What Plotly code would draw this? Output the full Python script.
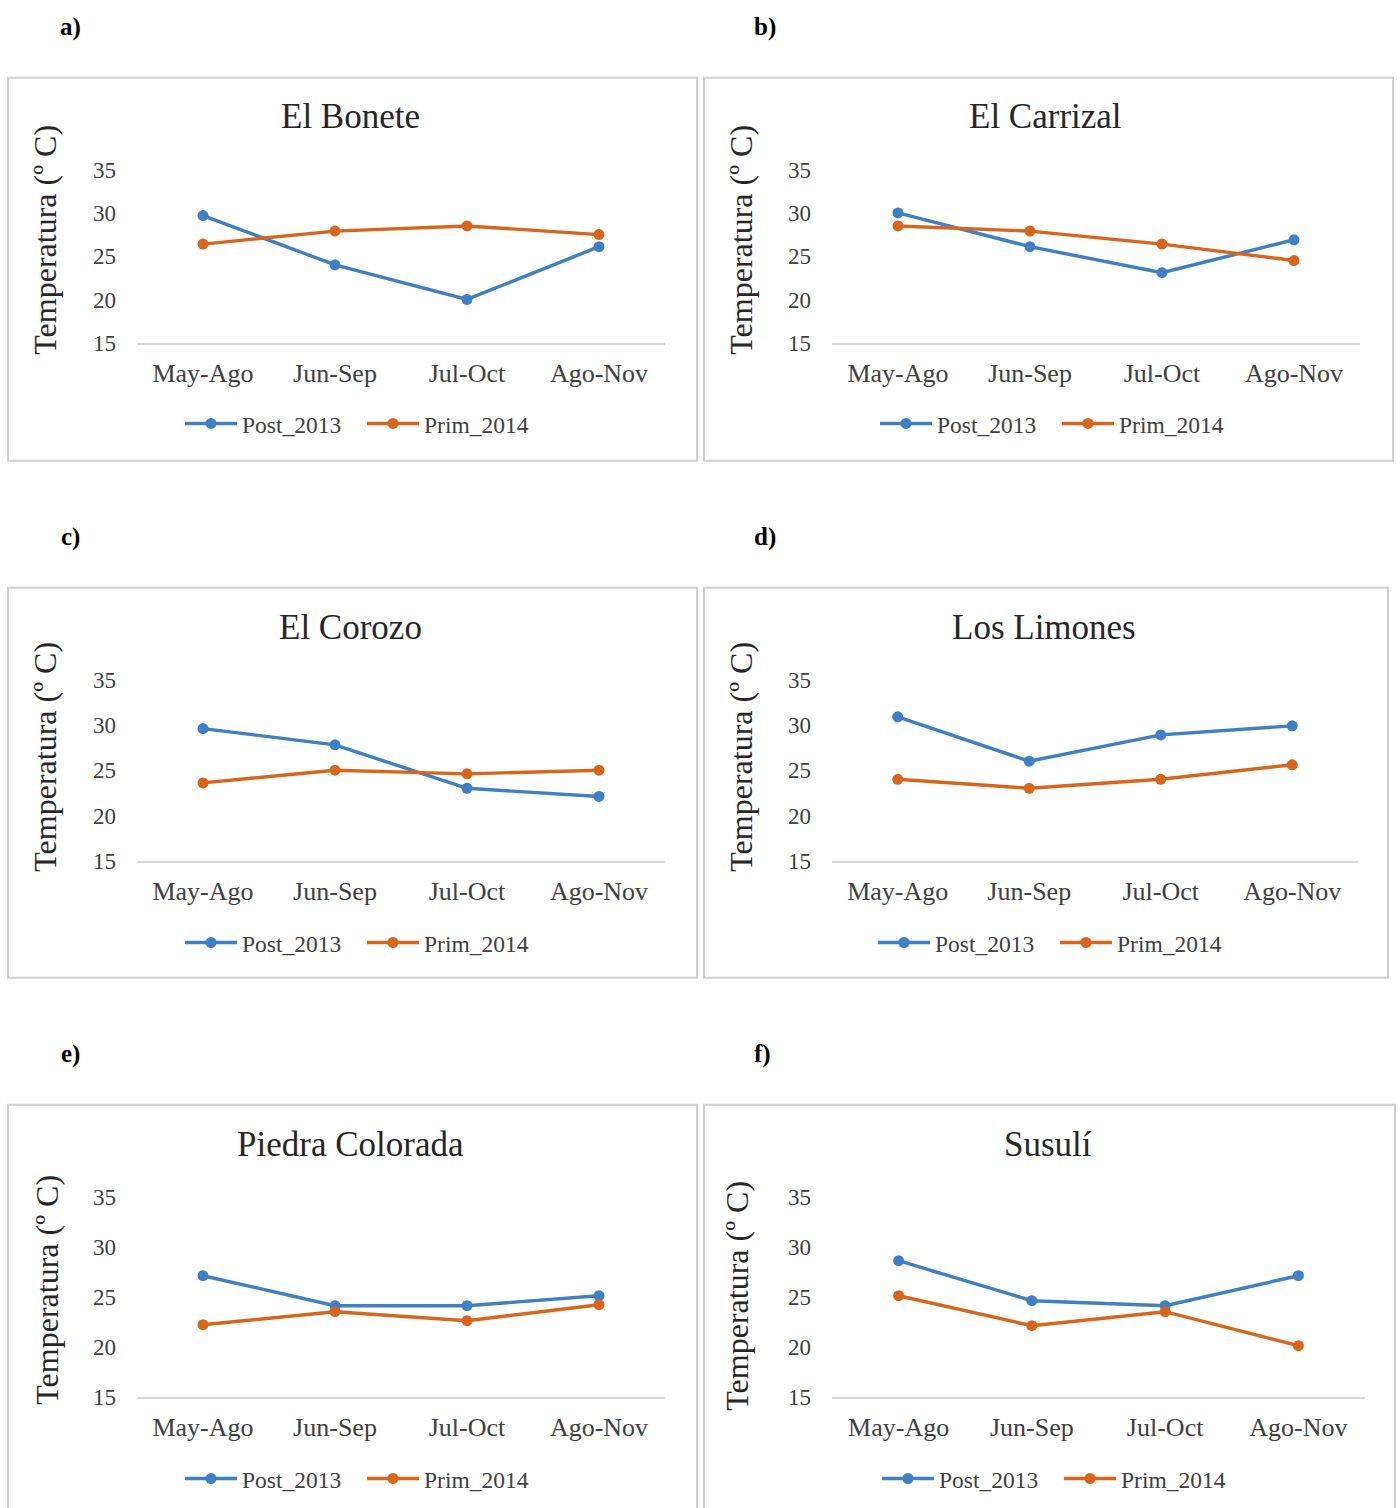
import plotly.graph_objects as go

# ---------------- data ----------------
categories = ["May-Ago", "Jun-Sep", "Jul-Oct", "Ago-Nov"]
site_names = ["El Bonete", "El Carrizal", "El Corozo", "Los Limones", "Piedra Colorada", "Susulí"]
panel_labels = ["a)", "b)", "c)", "d)", "e)", "f)"]
series_names = ["Post_2013", "Prim_2014"]
y_ticks = [15, 20, 25, 30, 35]

bonete_post = [29.7, 24.0, 20.0, 26.1]
bonete_prim = [26.4, 27.9, 28.5, 27.5]
carrizal_post = [30.0, 26.1, 23.1, 26.9]
carrizal_prim = [28.5, 27.9, 26.4, 24.5]
corozo_post = [29.6, 27.8, 23.0, 22.1]
corozo_prim = [23.6, 25.0, 24.6, 25.0]
limones_post = [30.9, 26.0, 28.9, 29.9]
limones_prim = [24.0, 23.0, 24.0, 25.6]
piedra_post = [27.1, 24.1, 24.1, 25.1]
piedra_prim = [22.2, 23.5, 22.6, 24.2]
susuli_post = [28.6, 24.6, 24.1, 27.1]
susuli_prim = [25.1, 22.1, 23.5, 20.1]

post_series = [bonete_post, carrizal_post, corozo_post, limones_post, piedra_post, susuli_post]
prim_series = [bonete_prim, carrizal_prim, corozo_prim, limones_prim, piedra_prim, susuli_prim]

# ---------------- styling / layout ----------------
W, H = 1400, 1508
BLUE = "#3F7FC3"
ORANGE = "#D7661C"
FONT = "Liberation Serif"


def fx(px):
    return px / W


def fy(py):
    # small vertical correction so the captured page lines up with the target
    py = (py - 12.3) / 0.9834
    return 1 - py / H


# pixel geometry per panel
panels = [
    dict(plot=(137, 665, 170, 343), box=(8, 697, 78, 461), title=(350, 117), ytitle=(45, 240), label=(70, 27), legend=(362, 424)),
    dict(plot=(832, 1360, 170, 343), box=(704, 1393, 78, 461), title=(1045, 117), ytitle=(741, 240), label=(765, 27), legend=(1057, 424)),
    dict(plot=(137, 665, 680, 861), box=(8, 697, 588, 978), title=(350, 628), ytitle=(45, 757), label=(70, 537), legend=(362, 943)),
    dict(plot=(832, 1358, 680, 861), box=(704, 1388, 588, 978), title=(1044, 628), ytitle=(741, 757), label=(765, 537), legend=(1055, 943)),
    dict(plot=(137, 665, 1197, 1397), box=(8, 697, 1105, 1530), title=(350, 1145), ytitle=(47, 1290), label=(70, 1054), legend=(362, 1479)),
    dict(plot=(832, 1365, 1197, 1397), box=(704, 1395, 1105, 1530), title=(1048, 1145), ytitle=(737, 1296), label=(762, 1054), legend=(1059, 1479)),
]

fig = go.Figure()
layout = dict(
    width=W, height=H,
    margin=dict(l=0, r=0, t=0, b=0),
    paper_bgcolor="white", plot_bgcolor="white",
    font=dict(family=FONT, color="#262626"),
    showlegend=True,
)
annotations = []
shapes = []

for i, p in enumerate(panels):
    n = "" if i == 0 else str(i + 1)
    xa, ya = "x" + n, "y" + n
    leg = "legend" + n
    for name, vals, col in [(series_names[0], post_series[i], BLUE), (series_names[1], prim_series[i], ORANGE)]:
        fig.add_trace(go.Scatter(
            x=categories, y=vals, name=name, mode="lines+markers",
            line=dict(color=col, width=3.4),
            marker=dict(color=col, size=11, symbol="circle"),
            xaxis=xa, yaxis=ya, legend=leg, cliponaxis=False,
        ))
    x0, x1, y0, y1 = p["plot"]
    layout["xaxis" + n] = dict(
        domain=[fx(x0), fx(x1)], anchor=ya, type="category",
        categoryorder="array", categoryarray=categories,
        range=[-0.5, 3.5], showline=True, linecolor="#D9D9D9", linewidth=1.5,
        showgrid=False, zeroline=False, ticks="",
        tickfont=dict(family=FONT, size=26, color="#404040"),
        ticklabelstandoff=6, fixedrange=True,
    )
    layout["yaxis" + n] = dict(
        domain=[fy(y1), fy(y0)], anchor=xa, range=[15, 35],
        tickvals=y_ticks, ticktext=[str(t) for t in y_ticks],
        showline=False, showgrid=False, zeroline=False, ticks="",
        tickfont=dict(family=FONT, size=23, color="#404040"),
        ticklabelstandoff=20, fixedrange=True,
    )
    lx, ly = p["legend"]
    layout[leg] = dict(
        orientation="h", x=fx(lx), y=fy(ly), xanchor="center", yanchor="middle",
        font=dict(family=FONT, size=23.5, color="#404040"),
        bgcolor="rgba(0,0,0,0)", itemwidth=52, tracegroupgap=0,
        entrywidthmode="pixels", entrywidth=115,
    )
    bx0, bx1, by0, by1 = p["box"]
    shapes.append(dict(type="rect", xref="paper", yref="paper",
                       x0=fx(bx0), x1=fx(bx1), y0=fy(by1), y1=fy(by0),
                       line=dict(color="#D0D0D0", width=2), fillcolor="rgba(0,0,0,0)", layer="below"))
    tx, ty = p["title"]
    annotations.append(dict(text=site_names[i], x=fx(tx), y=fy(ty), xref="paper", yref="paper",
                            showarrow=False, xanchor="center", yanchor="middle",
                            font=dict(family=FONT, size=35, color="#262626")))
    yx, yy = p["ytitle"]
    annotations.append(dict(text="Temperatura (º C)", x=fx(yx), y=fy(yy), xref="paper", yref="paper",
                            showarrow=False, xanchor="center", yanchor="middle", textangle=-90,
                            font=dict(family=FONT, size=32, color="#262626")))
    lbx, lby = p["label"]
    annotations.append(dict(text="<b>" + panel_labels[i] + "</b>", x=fx(lbx), y=fy(lby), xref="paper", yref="paper",
                            showarrow=False, xanchor="center", yanchor="middle",
                            font=dict(family=FONT, size=25, color="#000000")))

layout["annotations"] = annotations
layout["shapes"] = shapes
fig.update_layout(**layout)
fig.write_html(
    "out.html",
    config={"displayModeBar": False},
    post_script="document.body.style.margin='0';document.body.style.overflow='hidden';",
)
